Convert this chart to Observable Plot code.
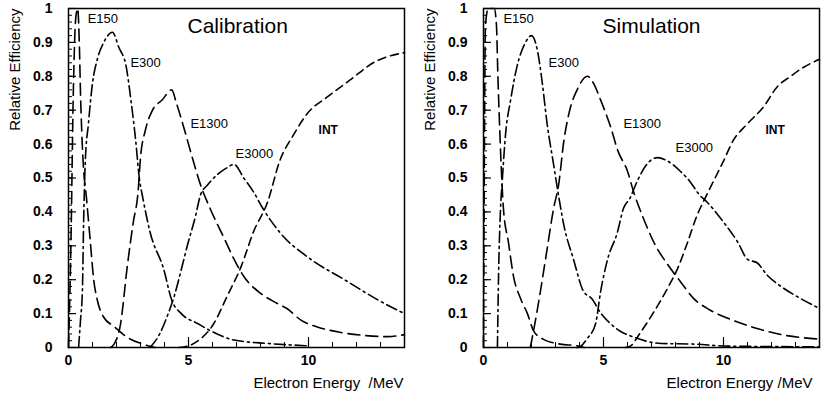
<!DOCTYPE html>
<html><head><meta charset="utf-8">
<script src="https://cdn.jsdelivr.net/npm/d3@7"></script>
<script src="https://cdn.jsdelivr.net/npm/@observablehq/plot@0.6"></script>
<style>
body{margin:0;background:#fff;}
#wrap{display:flex;width:824px;height:397px;font-family:"Liberation Sans",Arial,sans-serif;}
</style></head><body><div id="wrap"></div>
<script>
// ---- tick labels ----
const xMajorTicks = [0, 5, 10];
const xMinorTicks = [1, 2, 3, 4, 6, 7, 8, 9, 11, 12, 13];
const yMajorTicks = [0, 0.1, 0.2, 0.3, 0.4, 0.5, 0.6, 0.7, 0.8, 0.9, 1];
const yMinorTicks = d3.range(0, 1.0001, 0.02);

// ---- Calibration panel series [energy MeV, relative efficiency] ----
const calE150 = [[0,0],[0.1,0.3],[0.2,0.75],[0.3,0.97],[0.38,1.0],[0.45,0.9],[0.5,0.75],[0.6,0.56],[0.75,0.44],[0.9,0.32],[1.05,0.2],[1.2,0.14],[1.46,0.09],[1.9,0.062],[2.45,0.03],[3.1,0.01],[3.6,0]];
const calE300 = [[0.42,0],[0.5,0.08],[0.58,0.17],[0.63,0.37],[0.7,0.55],[0.83,0.66],[1.0,0.78],[1.2,0.85],[1.47,0.9],[1.83,0.93],[2.1,0.885],[2.4,0.83],[2.6,0.73],[2.8,0.61],[2.95,0.5],[3.1,0.44],[3.4,0.34],[3.97,0.23],[4.3,0.14],[4.7,0.1],[5.4,0.07],[5.9,0.05],[6.9,0.022],[8.3,0.012],[9.7,0.006],[10,0.005]];
const calE1300 = [[1.75,0],[1.9,0.01],[2.17,0.07],[2.45,0.24],[2.7,0.37],[2.9,0.46],[3.0,0.56],[3.2,0.64],[3.5,0.7],[3.9,0.73],[4.3,0.76],[4.5,0.72],[4.8,0.65],[5.2,0.55],[5.5,0.48],[5.9,0.41],[6.5,0.32],[6.9,0.26],[7.3,0.21],[8.0,0.16],[8.7,0.13],[9.1,0.115],[9.7,0.08],[10.4,0.06],[11.3,0.045],[12.4,0.035],[13.3,0.032],[14,0.038]];
const calE3000 = [[3.4,0],[3.8,0.04],[4.1,0.09],[4.4,0.15],[4.7,0.23],[4.95,0.3],[5.3,0.39],[5.5,0.45],[5.8,0.48],[6.2,0.51],[6.6,0.53],[6.9,0.54],[7.3,0.5],[7.7,0.46],[8.1,0.41],[8.8,0.34],[10.1,0.26],[11.5,0.2],[12.9,0.14],[14,0.1]];
const calINT = [[4.6,0],[5.0,0.005],[5.5,0.025],[6.05,0.07],[6.6,0.15],[7.2,0.24],[7.7,0.34],[8.3,0.43],[8.8,0.55],[9.4,0.63],[9.95,0.69],[10.8,0.74],[11.75,0.79],[12.7,0.84],[14,0.87]];

// ---- Simulation panel series ----
const simE150 = [[0,0],[0.04,0.6],[0.08,0.95],[0.2,1.0],[0.45,1.0],[0.54,0.95],[0.6,0.8],[0.7,0.6],[0.78,0.47],[0.83,0.41],[1.04,0.31],[1.25,0.21],[1.54,0.145],[1.83,0.1],[2.08,0.05],[2.5,0.024],[3.2,0.01],[3.9,0.005],[4.2,0]];
const simE300 = [[0.58,0],[0.63,0.22],[0.71,0.41],[0.78,0.49],[0.92,0.63],[1.13,0.73],[1.4,0.83],[1.75,0.9],[2.0,0.92],[2.25,0.875],[2.45,0.78],[2.65,0.66],[2.92,0.54],[3.1,0.46],[3.35,0.36],[3.75,0.26],[4.17,0.165],[4.5,0.145],[4.9,0.1],[5.3,0.07],[5.7,0.048],[6.1,0.035],[7.4,0.012],[8.75,0.01],[10.2,0.004],[14,0.002]];
const simE1300 = [[1.95,0],[2.08,0.047],[2.37,0.165],[2.65,0.29],[2.92,0.41],[3.13,0.48],[3.35,0.61],[3.63,0.71],[3.9,0.76],[4.33,0.8],[4.58,0.78],[4.88,0.73],[5.3,0.65],[5.6,0.58],[6.0,0.52],[6.25,0.46],[6.67,0.38],[7.1,0.31],[7.67,0.245],[8.2,0.195],[8.75,0.145],[9.45,0.11],[10.4,0.08],[11.55,0.053],[12.4,0.038],[13.6,0.027],[14,0.025]];
const simE3000 = [[3.9,0],[4.04,0.003],[4.33,0.027],[4.67,0.07],[4.88,0.165],[5.17,0.26],[5.58,0.34],[5.83,0.41],[6.1,0.44],[6.4,0.49],[6.8,0.54],[7.25,0.56],[7.67,0.55],[8.2,0.52],[8.6,0.49],[9.0,0.45],[9.3,0.43],[10.0,0.37],[10.6,0.31],[11.0,0.26],[11.4,0.25],[11.8,0.215],[12.5,0.175],[13.2,0.145],[14,0.115]];
const simINT = [[5.9,0],[6.1,0.003],[6.5,0.04],[7.1,0.105],[7.67,0.175],[8.1,0.235],[8.5,0.31],[8.9,0.39],[9.3,0.45],[10.0,0.55],[10.4,0.61],[11.0,0.66],[11.67,0.71],[12.25,0.77],[12.8,0.8],[13.3,0.825],[14,0.85]];

// ---- curve labels [text, energy, efficiency] ----
const calLabels = [["E150",0.8,0.97],["E300",2.58,0.84],["E1300",5.08,0.66],["E3000",6.96,0.57]];
const simLabels = [["E150",0.83,0.97],["E300",2.71,0.84],["E1300",5.83,0.66],["E3000",8.0,0.59]];
const calIntLabel = [["INT",10.42,0.64]];
const simIntLabel = [["INT",11.75,0.64]];

const titles = ["Calibration", "Simulation"];
const yLabel = "Relative Efficiency";
const xLabels = ["Electron Energy  /MeV", "Electron Energy /MeV"];

// ---- styles ----
const dash = {E150: "12,6", E300: "11,4,2,4", E1300: "12,6", E3000: "11,4,2,4", INT: "8,5"};

function panel(i, series, labels, intLabel, mL, mR) {
  const W = 412, H = 397, mT = 8, mB = 50;
  const pw = W - mL - mR, ph = H - mT - mB;
  const marks = [];
  for (const [name, data] of series) {
    marks.push(Plot.line(data, {x: d => d[0], y: d => d[1], stroke: "black", strokeWidth: 1.6,
      strokeDasharray: dash[name], curve: "monotone-x"}));
  }
  marks.push(
    Plot.tickY(yMinorTicks, {y: d => d, insetRight: pw - 4, stroke: "black", strokeWidth: 1}),
    Plot.tickY(yMajorTicks, {y: d => d, insetRight: pw - 8, stroke: "black", strokeWidth: 1.2}),
    Plot.tickX(xMinorTicks, {x: d => d, insetTop: ph - 5, stroke: "black", strokeWidth: 1}),
    Plot.tickX(xMajorTicks, {x: d => d, insetTop: ph - 10, stroke: "black", strokeWidth: 1.2}),
    Plot.axisY(yMajorTicks, {tickSize: 0, tickPadding: 16, label: null, fontSize: 14, fontWeight: "bold",
      tickFormat: d => d === 0 ? "0" : d === 1 ? "1" : d3.format(".1f")(d)}),
    Plot.axisX(xMajorTicks, {tickSize: 0, tickPadding: 8, label: null, fontSize: 14, fontWeight: "bold",
      tickFormat: d => String(d)}),
    Plot.frame({stroke: "black", strokeWidth: 1.5}),
    Plot.text(labels, {x: d => d[1], y: d => d[2], text: d => d[0], textAnchor: "start", fontSize: 13}),
    Plot.text(intLabel, {x: d => d[1], y: d => d[2], text: d => d[0], textAnchor: "start", fontSize: 12, fontWeight: "bold"}),
    Plot.text([titles[i]], {frameAnchor: "top-left", dx: 119, dy: 18, textAnchor: "start", lineAnchor: "middle",
      fontSize: 21, text: d => d, style: "letter-spacing:1px"}),
    Plot.text([yLabel], {frameAnchor: "top-left", dx: -53, dy: 0, rotate: -90, textAnchor: "end",
      lineAnchor: "middle", fontSize: 15, text: d => d}),
    Plot.text([xLabels[i]], {frameAnchor: "bottom-right", dx: i === 0 ? -1 : -7, dy: 36, textAnchor: "end",
      lineAnchor: "middle", fontSize: 15, text: d => d})
  );
  return Plot.plot({
    width: W, height: H, marginLeft: mL, marginRight: mR, marginTop: mT, marginBottom: mB,
    style: {fontFamily: "'Liberation Sans', Arial, sans-serif", background: "white", color: "black"},
    x: {domain: [0, 14], axis: null},
    y: {domain: [0, 1], axis: null},
    marks
  });
}

const wrap = document.getElementById("wrap");
wrap.appendChild(panel(0, [["E150", calE150], ["E300", calE300], ["E1300", calE1300], ["E3000", calE3000], ["INT", calINT]], calLabels, calIntLabel, 68, 8));
wrap.appendChild(panel(1, [["E150", simE150], ["E300", simE300], ["E1300", simE1300], ["E3000", simE3000], ["INT", simINT]], simLabels, simIntLabel, 71, 5));
</script></body></html>
